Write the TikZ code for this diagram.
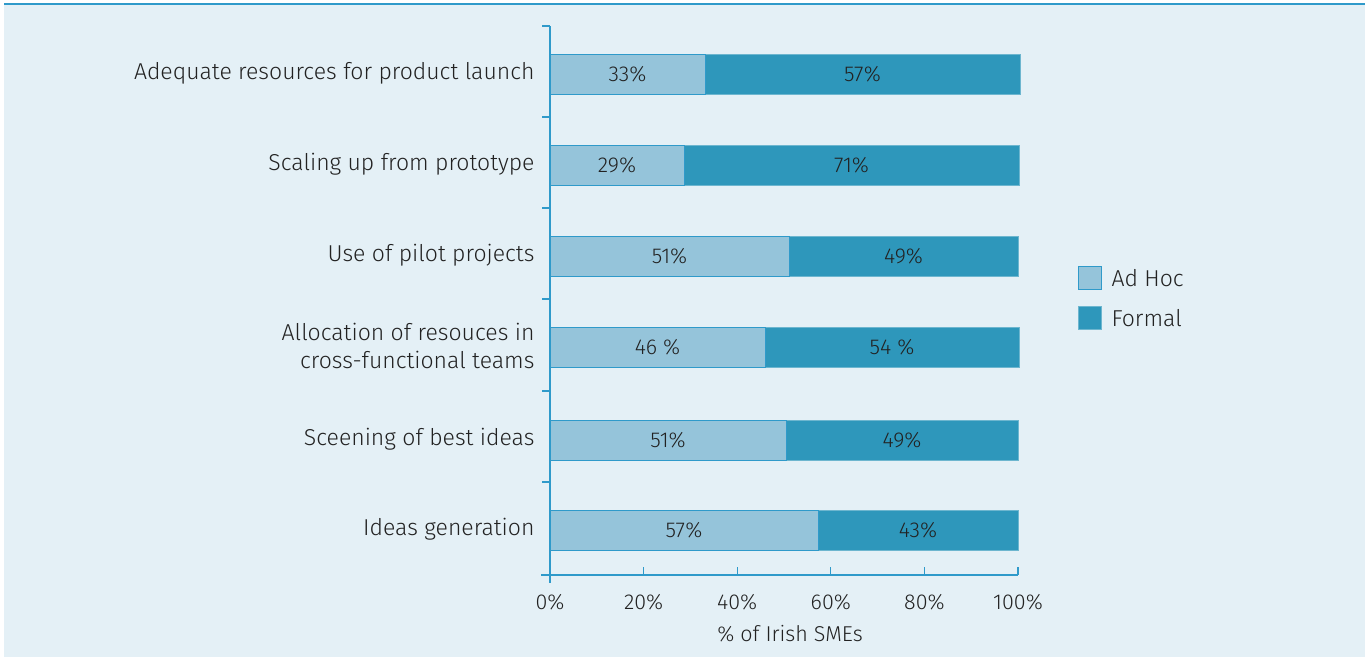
\documentclass[tikz,border=0pt]{standalone}
\usepackage{fontspec}
\setmainfont{Fira Sans}[UprightFont=* Light]
\definecolor{panel}{HTML}{E4F0F6}
\definecolor{axisblue}{HTML}{2F9ACA}
\definecolor{adhoc}{HTML}{95C4DA}
\definecolor{formal}{HTML}{2E97BB}
\definecolor{ink}{HTML}{222222}
\tikzset{
  barlabel/.style={font=\fontsize{21.5}{23}\selectfont, text=ink},
  catlabel/.style={anchor=east, align=right, font=\fontsize{23}{28.5}\selectfont, text=ink},
  ticklabel/.style={font=\fontsize{21.5}{23}\selectfont, text=ink},
  adhocbar/.style={fill=adhoc, draw=axisblue, line width=1pt},
  formalbar/.style={fill=formal, draw=formal!70!white, line width=1pt},
}
\begin{document}
\begin{tikzpicture}[x=1pt, y=-1pt]
    \useasboundingbox (0,0) rectangle (1372,659);

    % Panel
    \fill[panel] (4,4) rectangle (1365,657);
    \draw[axisblue, line width=2pt] (4,4) -- (1365,4);

    % Bars: centre y / split x / end x / ad hoc / formal / name / label
    \foreach \y/\s/\e/\a/\f/\n/\label in {
        74/705/1020/{33\%}/{57\%}/launch/{Adequate resources for product launch},
        165/684/1019/{29\%}/{71\%}/scaling/{Scaling up from prototype},
        256/789/1018/{51\%}/{49\%}/pilot/{Use of pilot projects},
        347/765/1019/{46 \%}/{54 \%}/alloc/{Allocation of resouces in\\cross-functional teams},
        440/786/1018/{51\%}/{49\%}/screen/{Sceening of best ideas},
        530/818/1018/{57\%}/{43\%}/ideas/{Ideas generation}}
    {
        \draw[formalbar] (\s,\y-20) rectangle (\e,\y+20);
        \draw[adhocbar] (550,\y-20) rectangle (\s,\y+20);
        \node[barlabel] (\n-a) at ({(550+\s)/2},\y) {\a};
        \node[barlabel] (\n-f) at ({(\s+\e)/2},\y) {\f};
        \node[catlabel] (\n) at (538,\y-1) {\label};
    }

    % Vertical axis with category ticks
    \draw[axisblue, line width=1.2pt] (550,26) -- (550,583);
    \foreach \y in {26,117,208,299,391,482}
        \draw[axisblue, line width=1.2pt] (542,\y) -- (550,\y);

    % Horizontal axis with ticks
    \draw[axisblue, line width=1.2pt] (541,575) -- (1018,575);
    \foreach \p [count=\i] in {0,20,40,60,80,100}
    {
        \draw[axisblue, line width=1.2pt] ({550+4.68*\p},575) -- ({550+4.68*\p},567);
        \node[ticklabel] (tick\i) at ({550+4.68*\p},602) {\p\%};
    }
    \node[ticklabel] (xtitle) at (790,634) {\% of Irish SMEs};

    % Legend
    \node[adhocbar, minimum size=23pt, inner sep=0pt] (key-a) at (1090,278) {};
    \node[formalbar, minimum size=23pt, inner sep=0pt] (key-f) at (1090,318) {};
    \node[ticklabel, anchor=west, font=\fontsize{23}{25}\selectfont] (key-a-text) at (key-a.east) [xshift=6pt] {Ad Hoc};
    \node[ticklabel, anchor=west, font=\fontsize{23}{25}\selectfont] (key-f-text) at (key-f.east) [xshift=6pt] {Formal};

\end{tikzpicture}
\end{document}
